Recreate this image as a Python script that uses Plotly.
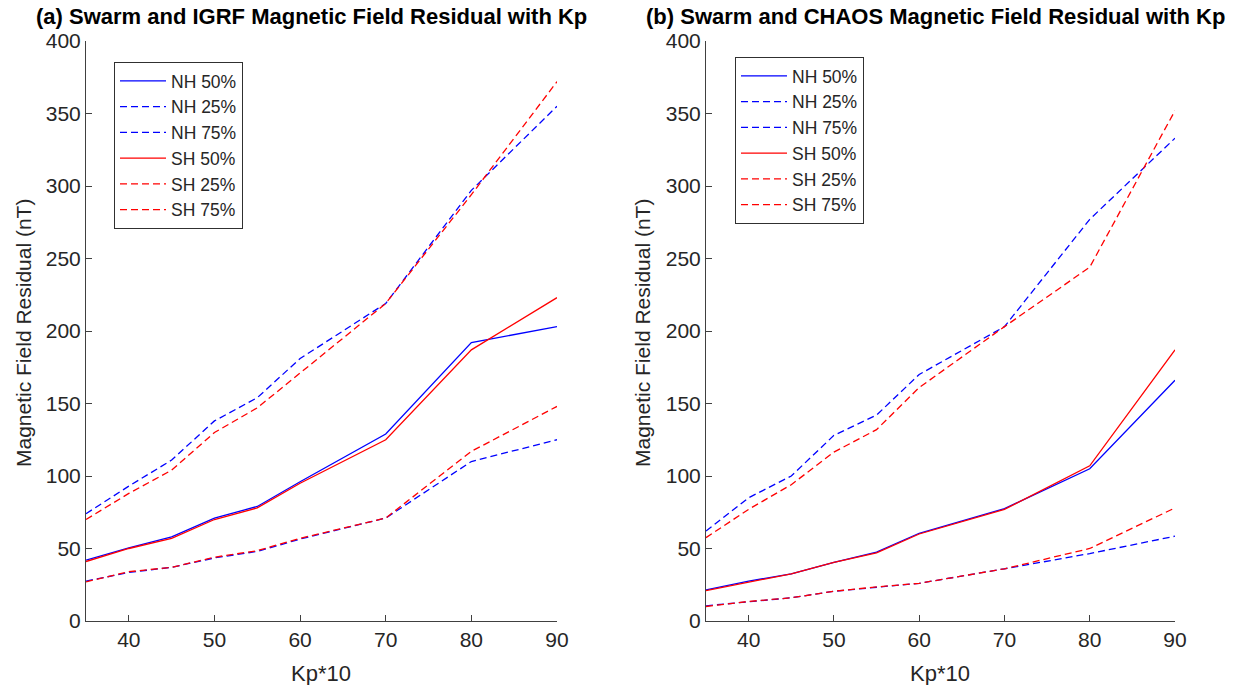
import plotly.graph_objects as go

# Kp*10 bins
kp = [35, 40, 45, 50, 55, 60, 70, 80, 90]

# (a) Swarm vs IGRF residual percentiles (nT)
igrf_nh50 = [42, 50.5, 58, 71, 79, 96, 129, 192, 203]
igrf_nh25 = [27.5, 33.5, 37, 43.5, 48, 56.5, 71, 110, 125]
igrf_nh75 = [74, 93, 111, 138, 154, 181, 219, 297, 355]
igrf_sh50 = [41, 50, 57, 70, 78, 95, 125, 187, 223]
igrf_sh25 = [27, 34, 37, 44, 48.5, 57, 71, 117, 148]
igrf_sh75 = [70, 88, 104, 130, 147, 171, 219, 294, 372]

# (b) Swarm vs CHAOS residual percentiles (nT)
chaos_nh50 = [21.5, 27.5, 32.5, 40.5, 47.5, 60.5, 77.5, 105, 166]
chaos_nh25 = [10.5, 13.5, 16, 20.5, 23.5, 26, 36, 46.5, 58.5]
chaos_nh75 = [62, 85, 100, 128, 142, 170, 203, 277, 333]
chaos_sh50 = [21, 27, 32.5, 40.5, 47, 60, 77, 107, 187]
chaos_sh25 = [10, 13.5, 16, 20.5, 23.5, 26, 36, 50, 78]
chaos_sh75 = [57.5, 77, 94, 116.5, 132, 161, 203, 244, 352]

names = ["NH 50%", "NH 25%", "NH 75%", "SH 50%", "SH 25%", "SH 75%"]
colors = ["#0000ff", "#0000ff", "#0000ff", "#ff0000", "#ff0000", "#ff0000"]
dashes = ["solid", "7px,4px", "7px,4px", "solid", "7px,4px", "7px,4px"]

panel_a = [igrf_nh50, igrf_nh25, igrf_nh75, igrf_sh50, igrf_sh25, igrf_sh75]
panel_b = [chaos_nh50, chaos_nh25, chaos_nh75, chaos_sh50, chaos_sh25, chaos_sh75]

W, H = 1242, 685
FONT = "Liberation Sans, Arial, sans-serif"
AX = "#404040"
TXT = "#262626"

fig = go.Figure()

for series, xa, ya, lg in [(panel_a, "x", "y", "legend"), (panel_b, "x2", "y2", "legend2")]:
    for vals, nm, c, d in zip(series, names, colors, dashes):
        fig.add_trace(go.Scatter(
            x=kp, y=vals, name=nm, mode="lines",
            line=dict(color=c, width=1.3, dash=d),
            xaxis=xa, yaxis=ya, legend=lg,
        ))


def px_x(p):
    return p / W


def px_y(p):
    return 1 - p / H


axis_common = dict(
    showline=True, linecolor=AX, linewidth=1,
    ticks="inside", ticklen=6, tickcolor=AX, tickwidth=1,
    showgrid=False, zeroline=False, mirror=False, automargin=False,
    tickfont=dict(family=FONT, size=21, color=TXT),
)

xdom_a = [px_x(86), px_x(557)]
xdom_b = [px_x(706), px_x(1175)]
ydom = [px_y(621), px_y(41)]

legend_common = dict(
    xanchor="left", yanchor="top",
    bgcolor="white", bordercolor="#303030", borderwidth=1,
    font=dict(family=FONT, size=17.5, color=TXT),
    tracegroupgap=0, itemwidth=46,
)

fig.update_layout(
    width=W, height=H,
    margin=dict(l=0, r=0, t=0, b=0, autoexpand=False),
    paper_bgcolor="white", plot_bgcolor="white",
    font=dict(family=FONT, color=TXT),
    xaxis=dict(domain=xdom_a, range=[35, 90], tickvals=[40, 50, 60, 70, 80, 90],
               anchor="y", **axis_common),
    yaxis=dict(domain=ydom, range=[0, 400], tickvals=list(range(0, 401, 50)),
               anchor="x", **axis_common),
    xaxis2=dict(domain=xdom_b, range=[35, 90], tickvals=[40, 50, 60, 70, 80, 90],
                anchor="y2", **axis_common),
    yaxis2=dict(domain=ydom, range=[0, 400], tickvals=list(range(0, 401, 50)),
                anchor="x2", **axis_common),
    legend=dict(x=px_x(114), y=px_y(62), **legend_common),
    legend2=dict(x=px_x(735), y=px_y(57), **legend_common),
    showlegend=True,
)

annotations = [
    dict(text="<b>(a) Swarm and IGRF Magnetic Field Residual with Kp</b>",
         x=px_x(311), y=px_y(17), font=dict(size=22, color="black")),
    dict(text="<b>(b) Swarm and CHAOS Magnetic Field Residual with Kp</b>",
         x=px_x(935), y=px_y(17), font=dict(size=22, color="black")),
    dict(text="Kp*10", x=px_x(321), y=px_y(673), font=dict(size=22, color=TXT)),
    dict(text="Kp*10", x=px_x(940), y=px_y(673), font=dict(size=22, color=TXT)),
    dict(text="Magnetic Field Residual (nT)", x=px_x(23), y=px_y(333),
         textangle=-90, font=dict(size=21, color=TXT)),
    dict(text="Magnetic Field Residual (nT)", x=px_x(642), y=px_y(333),
         textangle=-90, font=dict(size=21, color=TXT)),
]
for a in annotations:
    a.update(xref="paper", yref="paper", showarrow=False,
             xanchor="center", yanchor="middle")
    a["font"]["family"] = FONT
fig.update_layout(annotations=annotations)

fig.write_html("out.html")
